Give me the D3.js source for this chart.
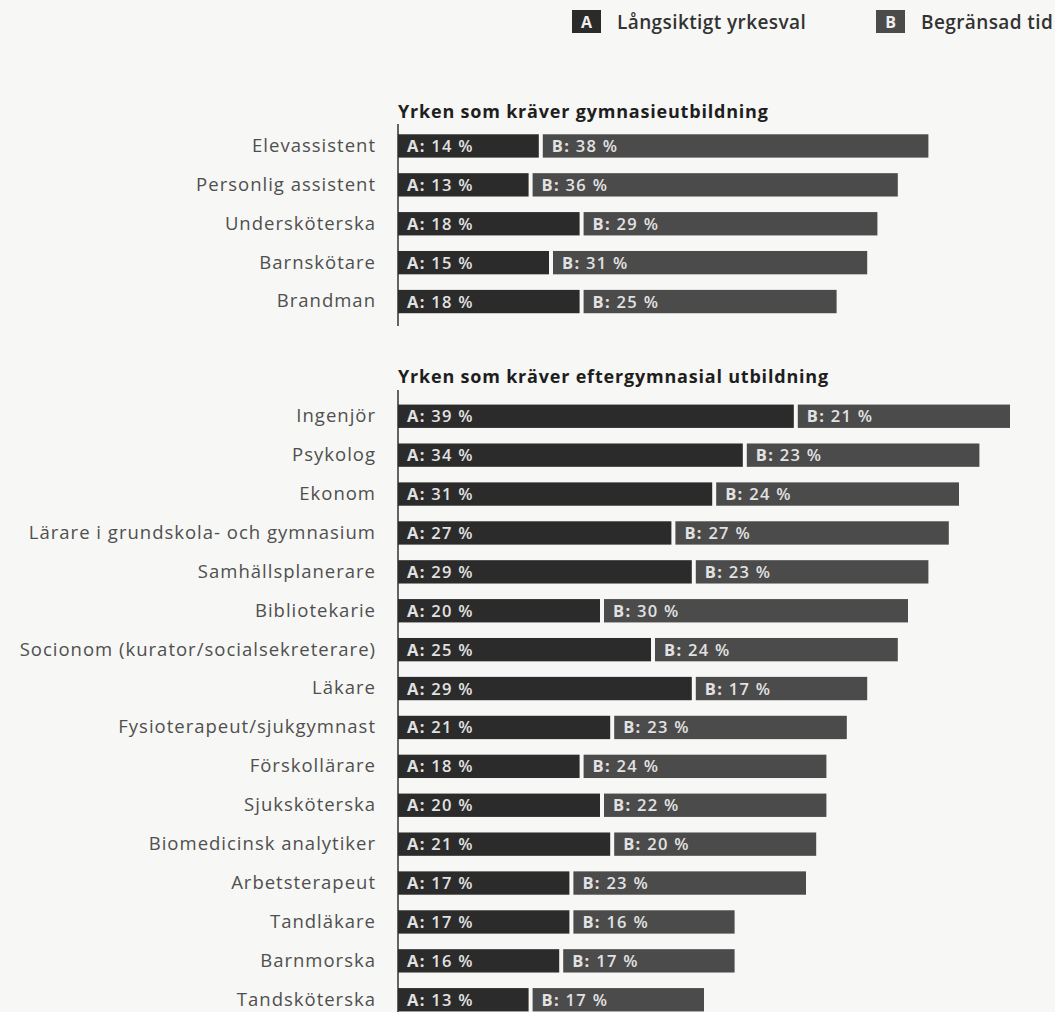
<!DOCTYPE html>
<html>
<head>
<meta charset="utf-8">
<script src="https://cdn.jsdelivr.net/npm/d3@7"></script>
<style>
  body { margin: 0; background: #f7f7f5; }
  svg { display: block; font-family: "Open Sans", sans-serif; }
</style>
</head>
<body>
<svg id="chart" width="1055" height="1012"></svg>
<script>
// Data
const seriesNames = ["Långsiktigt yrkesval", "Begränsad tid"];
const seriesKeys = ["A", "B"];

const groupTitles = ["Yrken som kräver gymnasieutbildning", "Yrken som kräver eftergymnasial utbildning"];

const catsGymn = ["Elevassistent", "Personlig assistent", "Undersköterska", "Barnskötare", "Brandman"];
const aGymn = [14, 13, 18, 15, 18];
const bGymn = [38, 36, 29, 31, 25];

const catsEfter = ["Ingenjör", "Psykolog", "Ekonom", "Lärare i grundskola- och gymnasium", "Samhällsplanerare",
  "Bibliotekarie", "Socionom (kurator/socialsekreterare)", "Läkare", "Fysioterapeut/sjukgymnast",
  "Förskollärare", "Sjuksköterska", "Biomedicinsk analytiker", "Arbetsterapeut", "Tandläkare",
  "Barnmorska", "Tandsköterska"];
const aEfter = [39, 34, 31, 27, 29, 20, 25, 29, 21, 18, 20, 21, 17, 17, 16, 13];
const bEfter = [21, 23, 24, 27, 23, 30, 24, 17, 23, 24, 22, 20, 23, 16, 17, 17];

const colors = ["#2b2b2b", "#4b4b4b"];

const svg = d3.select("#chart");

const x = d3.scaleLinear().domain([0, 60]).range([398, 1010]);

// legend
const legend = svg.append("g");
const legendX = [572, 876];
seriesNames.forEach((name, i) => {
    const g = legend.append("g").attr("transform", `translate(${legendX[i]},10)`);
    g.append("rect").attr("width", 29).attr("height", 23).attr("fill", colors[i]);
    g.append("text").attr("x", 14.5).attr("y", 18).attr("text-anchor", "middle")
        .attr("fill", "#eee").attr("font-weight", 700).attr("font-size", 16)
        .text(seriesKeys[i]);
    g.append("text").attr("x", 45).attr("y", 19)
        .attr("fill", "#333").attr("font-weight", 600).attr("font-size", 19)
        .attr("letter-spacing", 0.4)
        .text(name);
});

function drawGroup(title, cats, aVals, bVals, y0, y1, titleY, lineTop, lineBottom) {
    const rows = cats.map((c, i) => ({ name: c, a: aVals[i], b: bVals[i] }));

    const y = d3.scaleBand()
        .domain(cats)
        .range([y0, y1])
        .paddingInner(0.4)
        .paddingOuter(0.2);

    const g = svg.append("g");

    g.append("text")
        .attr("x", x(0))
        .attr("y", titleY)
        .attr("fill", "#1e1e1e")
        .attr("font-weight", 700)
        .attr("font-size", 18)
        .attr("letter-spacing", 0.8)
        .text(title);

    // category labels
    const axis = g.append("g")
        .attr("transform", `translate(${x(0) - 22},0)`)
        .call(d3.axisLeft(y).tickSize(0).tickPadding(0));
    axis.select(".domain").remove();
    axis.selectAll("text")
        .attr("fill", "#4f4f4f")
        .attr("font-size", 18.5)
        .attr("letter-spacing", 1)
        .attr("font-family", "Open Sans, sans-serif");

    g.append("line")
        .attr("x1", x(0)).attr("x2", x(0))
        .attr("y1", lineTop).attr("y2", lineBottom)
        .attr("stroke", "#333").attr("stroke-width", 1.5);

    const bar = g.selectAll("g.row")
        .data(rows)
        .enter().append("g")
        .attr("class", "row")
        .attr("transform", d => `translate(0,${y(d.name)})`);

    bar.append("rect")
        .attr("x", x(0))
        .attr("width", d => x(d.a) - x(0) - 2)
        .attr("height", y.bandwidth())
        .attr("fill", colors[0]);

    bar.append("rect")
        .attr("x", d => x(d.a) + 2)
        .attr("width", d => x(d.a + d.b) - x(d.a) - 2)
        .attr("height", y.bandwidth())
        .attr("fill", colors[1]);

    const labA = bar.append("text")
        .attr("x", x(0) + 9)
        .attr("y", y.bandwidth() / 2 + 6)
        .attr("fill", "#e2e2e2")
        .attr("font-weight", 600)
        .attr("letter-spacing", 1.3)
        .attr("font-size", 16.5);
    labA.append("tspan").attr("font-weight", 700).text("A:");
    labA.append("tspan").text(d => ` ${d.a} %`);

    const labB = bar.append("text")
        .attr("x", d => x(d.a) + 11)
        .attr("y", y.bandwidth() / 2 + 6)
        .attr("fill", "#e2e2e2")
        .attr("font-weight", 600)
        .attr("letter-spacing", 1.3)
        .attr("font-size", 16.5);
    labB.append("tspan").attr("font-weight", 700).text("B:");
    labB.append("tspan").text(d => ` ${d.b} %`);
}

drawGroup(groupTitles[0], catsGymn, aGymn, bGymn, 126.5, 321, 117.5, 124, 326);
drawGroup(groupTitles[1], catsEfter, aEfter, bEfter, 396.8, 1019.2, 383, 390, 1012);
</script>
</body>
</html>
